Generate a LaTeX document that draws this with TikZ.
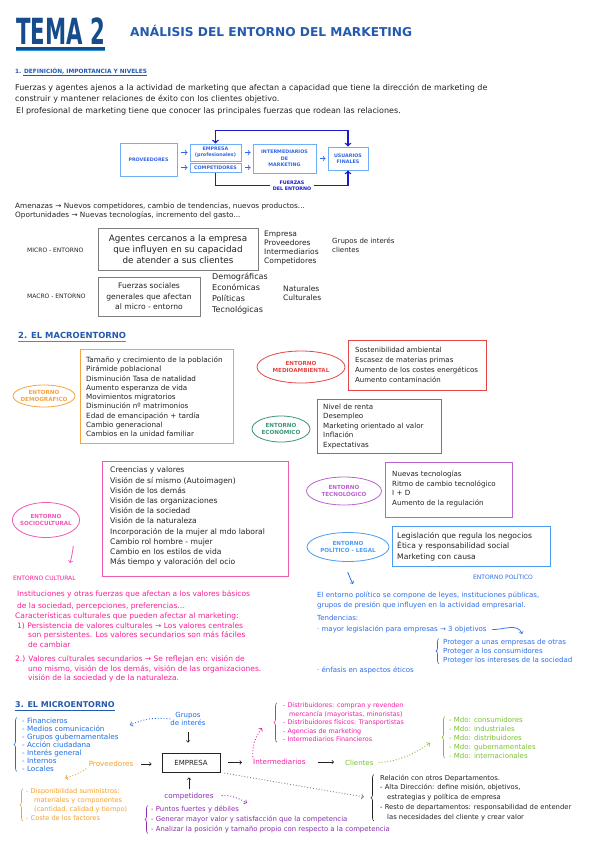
\documentclass[tikz,border=0pt]{standalone}
\usepackage{fontspec}
\setmainfont{DejaVu Sans}
\usepackage{tikz}
\usetikzlibrary{shapes.geometric,decorations.pathreplacing}
\newcommand{\hsz}[2]{\fontsize{#1}{#2}\selectfont}

\definecolor{ink}{RGB}{35,35,35}
\definecolor{titleblue}{RGB}{22,76,140}
\definecolor{lineblue}{RGB}{45,150,215}
\definecolor{headblue}{RGB}{35,90,175}
\definecolor{flowlight}{RGB}{110,175,250}
\definecolor{flowtext}{RGB}{50,100,230}
\definecolor{flowdark}{RGB}{25,25,205}
\definecolor{framegray}{RGB}{125,125,125}
\definecolor{cDemo}{RGB}{246,165,60}
\definecolor{cMedio}{RGB}{228,70,70}
\definecolor{cEco}{RGB}{60,150,115}
\definecolor{cSocio}{RGB}{240,90,180}
\definecolor{cCult}{RGB}{250,30,150}
\definecolor{cTecno}{RGB}{185,100,205}
\definecolor{cPol}{RGB}{75,155,245}
\definecolor{cPolText}{RGB}{45,110,235}
\definecolor{cMblue}{RGB}{25,110,230}
\definecolor{cMorange}{RGB}{245,160,40}
\definecolor{cMmag}{RGB}{240,30,165}
\definecolor{cMgreen}{RGB}{120,195,45}
\definecolor{cMpurple}{RGB}{140,45,175}

\begin{document}
\begin{tikzpicture}[x=1pt,y=-1pt,
  txt/.style={anchor=base west,inner sep=0pt,text=ink},
  lst/.style={anchor=north west,inner sep=0pt,align=left,text=ink},
  fbox/.style={draw=flowlight,line width=1pt,inner sep=0pt,align=center,
    text=flowtext,font=\hsz{4.8}{5.6}\bfseries},
  flowarr/.style={->,flowtext,line width=0.8pt,shorten <=3pt,shorten >=2pt},
  env/.style={ellipse,draw,line width=0.8pt,inner sep=-2pt,align=center,
    font=\hsz{5.6}{6.6}\bfseries},
  boxed/.style={draw,line width=0.8pt,inner sep=0pt},
  arr/.style={->,ink,line width=0.7pt},
  dots/.style={->,dotted,line width=0.9pt},
  brc/.style={decorate,decoration={brace,amplitude=3pt},line width=0.6pt}]
\fill[white] (0,0) rectangle (599,848);
\useasboundingbox (0,0) rectangle (599,848);

% cabecera
\node[anchor=west,inner sep=0pt,text=titleblue] (tema) at (16,31) {\scalebox{0.59}[1]{\hsz{36}{36}\bfseries TEMA 2}};
\draw[titleblue,line width=2.4pt] ([yshift=-4pt]tema.south west) -- ([yshift=-4pt]tema.south east);
\draw[lineblue,line width=0.8pt] ([yshift=-6pt]tema.south west) -- ([yshift=-6pt]tema.south east);
\node[anchor=west,inner sep=0pt,text=headblue,font=\hsz{12.2}{14}\bfseries] (titulo) at (130,31) {ANÁLISIS DEL ENTORNO DEL MARKETING};

% 1. definicion
\node[txt,text=headblue,font=\hsz{5.8}{7}\bfseries] (sec1) at (15,74) {1. DEFINICIÓN, IMPORTANCIA Y NIVELES};
\draw[headblue,line width=0.6pt] ([xshift=8pt,yshift=-1.8pt]sec1.base west) -- ([yshift=-1.8pt]sec1.base east);
\node[lst,font=\hsz{8}{10.5}] (def) at (15,84) {Fuerzas y agentes ajenos a la actividad de marketing que afectan a capacidad que tiene la dirección de marketing de\\construir y mantener relaciones de éxito con los clientes objetivo.};
\node[lst,font=\hsz{8}{10.5}] (prof) at (16,107) {El profesional de marketing tiene que conocer las principales fuerzas que rodean las relaciones.};

\node[fbox,minimum width=57,minimum height=33] (prov) at (148.5,159.5) {PROVEEDORES};
\node[fbox,minimum width=51,minimum height=17] (emp) at (215.5,152.5) {EMPRESA\\(profesionales)};
\node[fbox,minimum width=51,minimum height=9] (comp) at (215.5,167.5) {COMPETIDORES};
\node[fbox,minimum width=63,minimum height=29,font=\hsz{4.8}{6.7}\bfseries] (inter) at (284.5,158.5) {INTERMEDIARIOS\\DE\\MARKETING};
\node[fbox,minimum width=40,minimum height=23] (usu) at (348,158.5) {USUARIOS\\FINALES};
\node[inner sep=0pt,align=center,text=flowdark,font=\hsz{4.8}{6}\bfseries] (fuerzas) at (292,185.5) {FUERZAS\\DEL ENTORNO};
\draw[flowarr] (prov.east |- emp.west) -- (emp.west);
\draw[flowarr] (prov.east |- comp.west) -- (comp.west);
\draw[flowarr] (emp.east) -- (inter.west |- emp.east);
\draw[flowarr] (comp.east) -- (inter.west |- comp.east);
\draw[flowarr] (inter.east) -- (usu.west);
\draw[flowdark,line width=1.4pt,<->] (emp.north) -- ++(0,-13) -| (usu.north);
\draw[flowdark,line width=1.4pt,shorten >=3pt] (comp.south) |- (fuerzas.west);
\draw[flowdark,line width=1.4pt,->,shorten <=3pt] (fuerzas.east) -| (usu.south);

\node[lst,font=\hsz{7.3}{9}] (amen) at (15,202.5) {Amenazas → Nuevos competidores, cambio de tendencias, nuevos productos...\\Oportunidades → Nuevas tecnologías, incremento del gasto...};
\node[txt,font=\hsz{6}{7}] (microlbl) at (27,252.5) {MICRO - ENTORNO};
\node[boxed,draw=framegray,minimum width=160,minimum height=42,align=center,font=\hsz{8.8}{11},text=ink] (microbox) at (178,249) {Agentes cercanos a la empresa\\que influyen en su capacidad\\de atender a sus clientes};
\node[lst,font=\hsz{7.5}{9}] (microlist) at (264,230.5) {Empresa\\Proveedores\\Intermediarios\\Competidores};
\node[lst,font=\hsz{7}{9.5}] (interes) at (332,237.5) {Grupos de interés\\clientes};
\node[txt,font=\hsz{6}{7}] (macrolbl) at (27,298.5) {MACRO - ENTORNO};
\node[boxed,draw=framegray,minimum width=102,minimum height=39,align=center,font=\hsz{7.6}{10.5},text=ink] (macrobox) at (149,296.5) {Fuerzas sociales\\generales que afectan\\al micro - entorno};
\node[lst,font=\hsz{8}{11}] (macrolist) at (212,273) {Demográficas\\Económicas\\Políticas\\Tecnológicas};
\node[lst,font=\hsz{7.5}{9.5}] (macrolist2) at (283,285.5) {Naturales\\Culturales};

% 2. macroentorno
\node[txt,text=headblue,font=\hsz{8.4}{10}\bfseries] (sec2) at (18,338.5) {2. EL MACROENTORNO};
\draw[lineblue,line width=1pt] ([yshift=-2.5pt]sec2.base west) -- ([yshift=-2.5pt]sec2.base east);

\node[env,draw=cDemo,text=cDemo,minimum width=62,minimum height=22] (demo) at (44,396) {ENTORNO\\DEMOGRÁFICO};
\node[boxed,draw=cDemo,minimum width=153,minimum height=94] (demobox) at (156.5,396) {};
\node[lst,font=\hsz{7.2}{9.3}] (demolist) at (86,356.5) {Tamaño y crecimiento de la población\\Pirámide poblacional\\Disminución Tasa de natalidad\\Aumento esperanza de vida\\Movimientos migratorios\\Disminución nº matrimonios\\Edad de emancipación + tardía\\Cambio generacional\\Cambios en la unidad familiar};

\node[env,draw=cMedio,text=cMedio,minimum width=88,minimum height=32] (medio) at (301,367) {ENTORNO\\MEDIOAMBIENTAL};
\node[boxed,draw=cMedio,minimum width=138,minimum height=50] (mediobox) at (417,365) {};
\node[lst,font=\hsz{7}{10}] (mediolist) at (355,346.5) {Sostenibilidad ambiental\\Escasez de materias primas\\Aumento de los costes energéticos\\Aumento contaminación};

\node[env,draw=cEco,text=cEco,minimum width=58,minimum height=26] (eco) at (281,429) {ENTORNO\\ECONÓMICO};
\node[boxed,draw=cEco,minimum width=124,minimum height=54] (ecobox) at (379,426) {};
\node[lst,font=\hsz{7.1}{9.5}] (ecolist) at (323,403.5) {Nivel de renta\\Desempleo\\Marketing orientado al valor\\Inflación\\Expectativas};

\node[env,draw=cSocio,text=cSocio,minimum width=67,minimum height=35] (socio) at (46,520) {ENTORNO\\SOCIOCULTURAL};
\node[boxed,draw=cSocio,minimum width=186,minimum height=115] (sociobox) at (195,518.5) {};
\node[lst,font=\hsz{7.6}{10.2}] (sociolist) at (110,467) {Creencias y valores\\Visión de sí mismo (Autoimagen)\\Visión de los demás\\Visión de las organizaciones\\Visión de la sociedad\\Visión de la naturaleza\\Incorporación de la mujer al mdo laboral\\Cambio rol hombre - mujer\\Cambio en los estilos de vida\\Más tiempo y valoración del ocio};

\node[env,draw=cTecno,text=cTecno,minimum width=75,minimum height=28] (tecno) at (344,491) {ENTORNO\\TECNOLÓGICO};
\node[boxed,draw=cTecno,minimum width=127,minimum height=55] (tecnobox) at (448.5,489.5) {};
\node[lst,font=\hsz{7.1}{9.7}] (tecnolist) at (392,470.5) {Nuevas tecnologías\\Ritmo de cambio tecnológico\\I + D\\Aumento de la regulación};

\node[env,draw=cPol,text=cPol,minimum width=82,minimum height=29] (pol) at (348,547) {ENTORNO\\POLÍTICO - LEGAL};
\node[boxed,draw=cPol,line width=1pt,minimum width=158,minimum height=40] (polbox) at (471,546) {};
\node[lst,font=\hsz{7.6}{10.5}] (pollist) at (397,532) {Legislación que regula los negocios\\Ética y responsabilidad social\\Marketing con causa};

\coordinate (culttip) at (70,563);
\draw[cSocio,->,line width=0.8pt,shorten <=14pt] (socio.south east) to[bend left=15] (culttip);
\node[txt,text=cCult,font=\hsz{6}{7}] (cultlbl) at (13,580.5) {ENTORNO CULTURAL};
\node[lst,text=cCult,font=\hsz{7.5}{11.8}] (cult1) at (17,590.3) {Instituciones y otras fuerzas que afectan a los valores básicos\\de la sociedad, percepciones, preferencias...};
\node[lst,text=cCult,font=\hsz{7.5}{9.7}] (cult2) at (15,612.3) {Características culturales que pueden afectar al marketing:\\\hspace*{2pt}1) Persistencia de valores culturales → Los valores centrales\\\hspace*{13pt}son persistentes. Los valores secundarios son más fáciles\\\hspace*{13pt}de cambiar};
\node[lst,text=cCult,font=\hsz{7.5}{9.7}] (cult3) at (15,655.3) {2.) Valores culturales secundarios → Se reflejan en: visión de\\\hspace*{13pt}uno mismo, visión de los demás, visión de las organizaciones.\\\hspace*{13pt}visión de la sociedad y de la naturaleza.};

\coordinate (poltip) at (353,584);
\draw[cPolText,->,line width=0.8pt,shorten <=11pt] (pol.south) to[bend right=15] (poltip);
\node[txt,text=cPolText,font=\hsz{6}{7}] (pollbl) at (473,579.5) {ENTORNO POLÍTICO};
\node[lst,text=cPolText,font=\hsz{7}{10}] (poltext) at (317,591.5) {El entorno político se compone de leyes, instituciones públicas,\\grupos de presión que influyen en la actividad empresarial.};
\node[lst,text=cPolText,font=\hsz{7}{11}] (tend) at (317,614.5) {Tendencias:\\· mayor legislación para empresas → 3 objetivos};
\coordinate (objtip) at (522,634);
\draw[cPolText,->,line width=0.7pt] ([xshift=5pt,yshift=3pt]tend.south east) to[out=0,in=110] (objtip);
\node[lst,text=cPolText,font=\hsz{7}{9}] (prot) at (443,638.5) {Proteger a unas empresas de otras\\Proteger a los consumidores\\Proteger los intereses de la sociedad};
\draw[cPolText,brc] ([xshift=-4pt]prot.south west) -- ([xshift=-4pt]prot.north west);
\node[txt,text=cPolText,font=\hsz{7}{9}] (enfasis) at (317,672) {· énfasis en aspectos éticos};

% 3. microentorno
\node[txt,text=headblue,font=\hsz{8}{10}\bfseries] (sec3) at (15,707.5) {3. EL MICROENTORNO};
\draw[headblue,line width=1pt] ([yshift=-3pt]sec3.base west) -- ([yshift=-3pt]sec3.base east);

\node[inner sep=0pt,align=center,text=cMblue,font=\hsz{7}{8}] (grupos) at (188,719) {Grupos\\de interés};
\node[draw=ink,line width=0.8pt,minimum width=58,minimum height=19,inner sep=0pt,font=\hsz{7}{8},text=ink] (empresa) at (191,762.5) {EMPRESA};
\node[inner sep=0pt,text=cMorange,font=\hsz{7.2}{8}] (proveed) at (111,764) {Proveedores};
\node[inner sep=0pt,text=cMpurple,font=\hsz{7.2}{8}] (compet) at (189,797) {competidores};
\node[anchor=west,inner sep=0pt,text=cMmag,font=\hsz{7.2}{8}] (interm) at (253,762) {Intermediarios};
\node[anchor=west,inner sep=0pt,text=cMgreen,font=\hsz{7}{8}] (clientes) at (345,763) {Clientes};

\draw[arr,shorten <=6pt,shorten >=10pt] (grupos.south) -- (grupos.south |- empresa.north);
\draw[arr,shorten <=8pt,shorten >=10pt] (proveed.east) -- (proveed.east -| empresa.west);
\draw[arr,shorten <=4pt,shorten >=5pt] (compet.north) -- (compet.north |- empresa.south);
\draw[arr,shorten <=8pt,shorten >=11pt] (empresa.east) -- (empresa.east -| interm.west);
\draw[arr,shorten <=12pt,shorten >=11pt] (interm.east) -- (interm.east -| clientes.west);

\node[lst,text=cMblue,font=\hsz{7.2}{8}] (grplist) at (22,717.5) {- Financieros\\- Medios comunicación\\- Grupos gubernamentales\\- Acción ciudadana\\- Interés general\\- Internos\\- Locales};
\draw[cMblue,brc] ([xshift=-5pt]grplist.south west) -- ([xshift=-5pt]grplist.north west);
\node[lst,text=cMorange,font=\hsz{6.6}{9}] (provlist) at (26,788.7) {- Disponibilidad suministros:\\\hspace*{8pt}materiales y componentes\\\hspace*{8pt}(cantidad, calidad y tiempo)\\- Coste de los factores};
\draw[cMorange,brc] ([xshift=-3pt]provlist.south west) -- ([xshift=-3pt]provlist.north west);
\node[lst,text=cMpurple,font=\hsz{6.9}{10.3}] (complist) at (151,805.5) {- Puntos fuertes y débiles\\- Generar mayor valor y satisfacción que la competencia\\- Analizar la posición y tamaño propio con respecto a la competencia};
\draw[cMpurple,brc] ([xshift=-3pt]complist.south west) -- ([xshift=-3pt]complist.north west);
\node[lst,text=cMmag,font=\hsz{6.4}{8.5}] (intlist) at (283,702.8) {- Distribuidores: compran y revenden\\\hspace*{6pt}mercancía (mayoristas, minoristas)\\- Distribuidores físicos: Transportistas\\- Agencias de marketing\\- Intermediarios Financieros};
\draw[cMmag,brc] ([xshift=-6pt]intlist.south west) -- ([xshift=-6pt]intlist.north west);
\node[lst,text=cMgreen,font=\hsz{7}{9}] (clilist) at (449,716.5) {- Mdo: consumidores\\- Mdo: industriales\\- Mdo: distribuidores\\- Mdo: gubernamentales\\- Mdo: internacionales};
\draw[cMgreen,brc] ([xshift=-4pt]clilist.south west) -- ([xshift=-4pt]clilist.north west);
\node[lst,font=\hsz{6.8}{9.8}] (deptlist) at (380,774.5) {Relación con otros Departamentos.\\- Alta Dirección: define misión, objetivos,\\\hspace*{7pt}estrategias y política de empresa\\- Resto de departamentos: responsabilidad de entender\\\hspace*{7pt}las necesidades del cliente y crear valor};
\draw[ink,brc] ([xshift=-6pt]deptlist.south west) -- ([xshift=-6pt]deptlist.north west);

\coordinate (grptip) at (130,725);
\draw[dots,cMblue] (grupos.west) to[bend right=15] (grptip);
\coordinate (provtip) at (65,778);
\draw[dots,cMorange,shorten <=3pt] (proveed.south west) to[bend left=10] (provtip);
\coordinate (intertip) at (262,728);
\draw[dots,cMmag,shorten <=2pt] (interm.north west) to[bend left=20] (intertip);
\coordinate (clitip) at (430,743);
\draw[dots,cMgreen,shorten <=5pt] (clientes.east) to[bend right=15] (clitip);
\coordinate (comptip) at (247,803);
\draw[dots,cMpurple,shorten <=8pt] (compet.east) to[bend left=20] (comptip);
\coordinate (depttip) at (364,797);
\draw[dots,gray,shorten <=4pt] (empresa.south east) -- (depttip);
\end{tikzpicture}
\end{document}
